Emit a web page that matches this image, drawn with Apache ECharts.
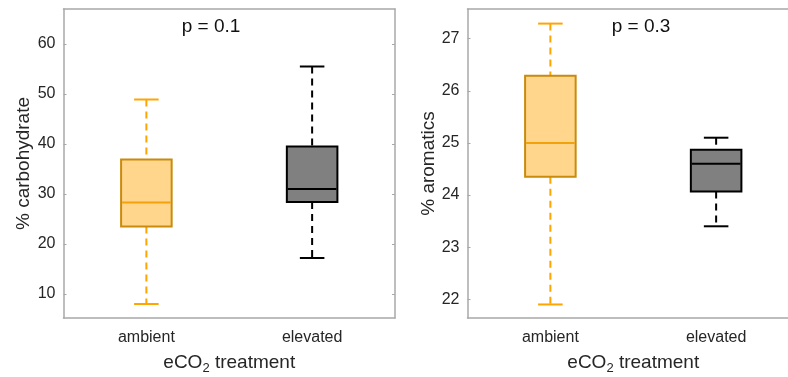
<!DOCTYPE html>
<html>
<head>
<meta charset="utf-8">
<script src="https://cdn.jsdelivr.net/npm/echarts@6/dist/echarts.min.js"></script>
<style>
html,body{margin:0;padding:0;background:#fff;}
#chart{width:788px;height:377px;}
</style>
</head>
<body>
<div id="chart"></div>
<script>
// ---- data ----
const categories = ['ambient', 'elevated'];
// [lower whisker, Q1, median, Q3, upper whisker]
const carbohydrate = [
  [8.0, 23.5, 28.3, 36.9, 48.9],
  [17.2, 28.4, 31.0, 39.5, 55.5]
];
const aromatics = [
  [21.9, 24.35, 25.0, 26.29, 27.29],
  [23.4, 24.07, 24.6, 24.87, 25.1]
];
const carbTicks = [10, 20, 30, 40, 50, 60];
const aromTicks = [22, 23, 24, 25, 26, 27];
const pLabels = ['p = 0.1', 'p = 0.3'];
const yNames = ['% carbohydrate', '% aromatics'];

// ---- styles ----
const boxStyles = [
  { fill: '#FFD68C', border: '#C98B0C', median: '#F2A20A', whisker: '#FFA500' },
  { fill: '#808080', border: '#000000', median: '#000000', whisker: '#000000' }
];
const FONT = '"Liberation Sans", Arial, sans-serif';
const TXT = '#262626';
const AX = '#a8a8a8';

function renderBox(params, api) {
  const idx = api.value(0);
  const st = boxStyles[idx];
  const band = api.size([1, 0])[0];
  const boxW = band * 0.305;
  const capW = band * 0.148;
  const lo = api.coord([idx, api.value(1)]);
  const q1 = api.coord([idx, api.value(2)]);
  const md = api.coord([idx, api.value(3)]);
  const q3 = api.coord([idx, api.value(4)]);
  const hi = api.coord([idx, api.value(5)]);
  const cx = lo[0];
  const wl = { stroke: st.whisker, lineWidth: 2, lineDash: [7, 5] };
  const cl = { stroke: st.whisker, lineWidth: 2 };
  return {
    type: 'group',
    children: [
      { type: 'line', shape: { x1: cx, y1: hi[1], x2: cx, y2: q3[1] }, style: wl },
      { type: 'line', shape: { x1: cx, y1: q1[1], x2: cx, y2: lo[1] }, style: wl },
      { type: 'line', shape: { x1: cx - capW / 2, y1: hi[1], x2: cx + capW / 2, y2: hi[1] }, style: cl },
      { type: 'line', shape: { x1: cx - capW / 2, y1: lo[1], x2: cx + capW / 2, y2: lo[1] }, style: cl },
      { type: 'rect', shape: { x: cx - boxW / 2, y: q3[1], width: boxW, height: q1[1] - q3[1] },
        style: { fill: st.fill, stroke: st.border, lineWidth: 2 } },
      { type: 'line', shape: { x1: cx - boxW / 2 + 1, y1: md[1], x2: cx + boxW / 2 - 1, y2: md[1] },
        style: { stroke: st.median, lineWidth: 2 } }
    ]
  };
}

const grids = [
  { left: 63.5, top: 9, width: 331.5, height: 309, outerBoundsMode: 'none', containLabel: false },
  { left: 467.5, top: 9, width: 331.5, height: 309, outerBoundsMode: 'none', containLabel: false }
];
const yRanges = [[5.2, 67], [21.64, 27.57]];
const yTicks = [carbTicks, aromTicks];
const datasets = [carbohydrate, aromatics];
const nameGaps = [30, 29];

const xAxes = [], yAxes = [], series = [];
grids.forEach((g, i) => {
  xAxes.push({
    type: 'category', gridIndex: i, data: categories, position: 'bottom',
    axisLine: { lineStyle: { color: AX, width: 1.5 } },
    axisTick: { inside: true, alignWithLabel: true, length: 3, lineStyle: { color: AX } },
    axisLabel: { color: TXT, fontFamily: FONT, fontSize: 16, margin: 12 },
    name: 'eCO{sub|2} treatment', nameLocation: 'middle', nameGap: 33,
    nameTextStyle: {
      color: TXT, fontFamily: FONT, fontSize: 19,
      rich: { sub: { fontSize: 13, fontFamily: FONT, color: TXT, padding: [11, 0, 0, 0] } }
    }
  });
  xAxes.push({
    type: 'category', gridIndex: i, data: categories, position: 'top',
    axisLine: { lineStyle: { color: AX, width: 1.5 } },
    axisTick: { inside: true, alignWithLabel: true, length: 3, lineStyle: { color: AX } },
    axisLabel: { show: false }
  });
  yAxes.push({
    type: 'value', gridIndex: i, min: yRanges[i][0], max: yRanges[i][1], position: 'left',
    splitLine: { show: false },
    axisLine: { show: true, lineStyle: { color: AX, width: 1.5 } },
    axisTick: { show: true, inside: true, length: 3, customValues: yTicks[i], lineStyle: { color: AX } },
    axisLabel: { color: TXT, fontFamily: FONT, fontSize: 16, margin: 8, customValues: yTicks[i] },
    name: yNames[i], nameLocation: 'middle', nameGap: nameGaps[i],
    nameTextStyle: { color: TXT, fontFamily: FONT, fontSize: 19 }
  });
  yAxes.push({
    type: 'value', gridIndex: i, min: yRanges[i][0], max: yRanges[i][1], position: 'right',
    show: i === 0,
    splitLine: { show: false },
    axisLine: { show: true, lineStyle: { color: AX, width: 1.5 } },
    axisTick: { show: true, inside: true, length: 3, customValues: yTicks[i], lineStyle: { color: AX } },
    axisLabel: { show: false }
  });
  series.push({
    type: 'custom', xAxisIndex: i * 2, yAxisIndex: i * 2,
    renderItem: renderBox,
    encode: { x: 0, y: [1, 2, 3, 4, 5] },
    data: datasets[i].map((v, k) => [k].concat(v)),
    clip: false, silent: true
  });
});

const chart = echarts.init(document.getElementById('chart'), null, { renderer: 'canvas' });
chart.setOption({
  animation: false,
  backgroundColor: '#ffffff',
  grid: grids,
  xAxis: xAxes,
  yAxis: yAxes,
  series: series,
  graphic: [
    { type: 'text', x: 211, y: 27, style: { text: pLabels[0], fill: '#111', font: '19px ' + FONT, align: 'center', verticalAlign: 'middle' } },
    { type: 'text', x: 641, y: 27, style: { text: pLabels[1], fill: '#111', font: '19px ' + FONT, align: 'center', verticalAlign: 'middle' } }
  ]
});
</script>
</body>
</html>
